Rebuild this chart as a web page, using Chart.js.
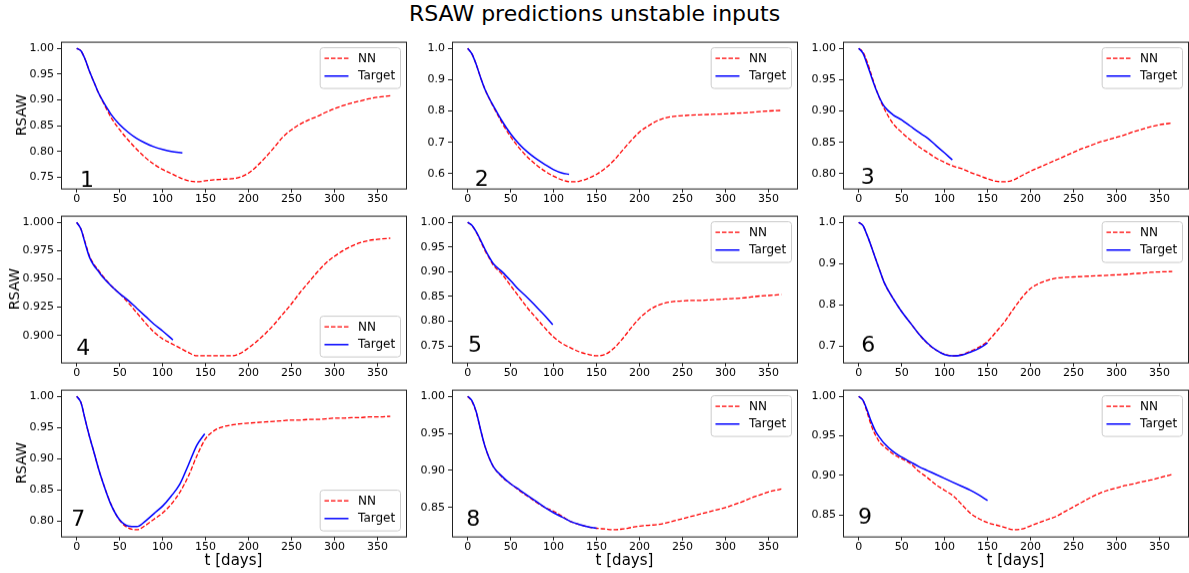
<!DOCTYPE html>
<html><head><meta charset="utf-8">
<script src="https://cdn.jsdelivr.net/npm/chart.js@4.4.1/dist/chart.umd.min.js"></script>
<style>
html,body{margin:0;padding:0;background:#fff;width:1189px;height:573px;overflow:hidden;position:relative;font-family:'DejaVu Sans',sans-serif;}
canvas{position:absolute;}
#title{position:absolute;left:0;top:1px;width:1189px;text-align:center;font-size:22px;line-height:26px;color:#000;white-space:nowrap;}
</style></head><body>
<div id="title">RSAW predictions unstable inputs</div>
<script>
// ---------- data ----------
const X_TICKS = [0, 50, 100, 150, 200, 250, 300, 350];
const NN_DAYS = [0,5,10,15,20,25,30,40,50,60,70,80,90,100,110,120,130,140,150,160,170,180,190,200,210,220,230,240,250,260,270,280,290,300,310,320,330,340,350,365];

const nn1 = [1.000,0.995,0.978,0.955,0.935,0.915,0.898,0.866,0.842,0.822,0.804,0.788,0.775,0.765,0.757,0.749,0.743,0.741,0.743,0.745,0.746,0.747,0.750,0.758,0.772,0.789,0.808,0.828,0.842,0.853,0.861,0.868,0.876,0.883,0.889,0.894,0.898,0.902,0.905,0.908];
const tgDays1 = [0,5,10,15,20,25,30,40,50,60,70,80,90,100,110,123];
const tg1 = [1.000,0.995,0.978,0.955,0.935,0.915,0.899,0.872,0.852,0.837,0.825,0.816,0.809,0.804,0.800,0.797];
const yTicks1 = ['0.75','0.80','0.85','0.90','0.95','1.00'];

const nn2 = [1.000,0.982,0.948,0.907,0.870,0.840,0.813,0.762,0.718,0.682,0.652,0.628,0.608,0.592,0.580,0.574,0.576,0.585,0.598,0.617,0.642,0.674,0.705,0.733,0.752,0.768,0.778,0.783,0.785,0.787,0.788,0.789,0.790,0.791,0.793,0.794,0.796,0.798,0.800,0.802];
const tgDays2 = [0,5,10,15,20,25,30,40,50,60,70,80,90,100,110,118];
const tg2 = [1.000,0.982,0.948,0.907,0.870,0.841,0.816,0.768,0.727,0.694,0.668,0.647,0.629,0.613,0.602,0.598];
const yTicks2 = ['0.6','0.7','0.8','0.9','1.0'];

const nn3 = [1.000,0.994,0.978,0.957,0.936,0.918,0.903,0.880,0.866,0.854,0.843,0.834,0.825,0.818,0.812,0.808,0.802,0.797,0.792,0.788,0.787,0.790,0.797,0.804,0.810,0.816,0.822,0.828,0.834,0.840,0.845,0.850,0.854,0.858,0.862,0.867,0.871,0.875,0.878,0.881];
const tgDays3 = [0,5,10,15,20,25,30,40,50,60,70,80,90,100,109];
const tg3 = [1.000,0.992,0.974,0.954,0.935,0.919,0.907,0.894,0.886,0.876,0.866,0.857,0.845,0.833,0.822];
const yTicks3 = ['0.80','0.85','0.90','0.95','1.00'];

const nn4 = [1.000,0.994,0.982,0.970,0.963,0.958,0.953,0.944,0.937,0.929,0.920,0.911,0.903,0.897,0.893,0.889,0.885,0.882,0.882,0.882,0.882,0.882,0.884,0.889,0.895,0.902,0.910,0.919,0.928,0.938,0.947,0.956,0.964,0.970,0.975,0.979,0.982,0.984,0.985,0.986];
const tgDays4 = [0,5,10,15,20,25,30,40,50,60,70,80,90,100,112];
const tg4 = [1.000,0.994,0.981,0.969,0.962,0.957,0.952,0.944,0.937,0.931,0.924,0.917,0.910,0.904,0.896];
const yTicks4 = ['0.900','0.925','0.950','0.975','1.000'];

const nn5 = [1.000,0.993,0.980,0.962,0.943,0.928,0.913,0.895,0.872,0.849,0.826,0.806,0.786,0.768,0.755,0.746,0.738,0.733,0.730,0.733,0.745,0.764,0.786,0.806,0.821,0.831,0.837,0.840,0.841,0.842,0.842,0.843,0.844,0.845,0.846,0.847,0.849,0.851,0.852,0.854];
const tgDays5 = [0,5,10,15,20,25,30,40,50,60,70,80,90,99];
const tg5 = [1.000,0.994,0.981,0.964,0.946,0.930,0.916,0.900,0.882,0.863,0.847,0.829,0.811,0.793];
const yTicks5 = ['0.75','0.80','0.85','0.90','0.95','1.00'];

const nn6 = [1.000,0.992,0.968,0.940,0.910,0.881,0.853,0.816,0.784,0.757,0.730,0.707,0.691,0.681,0.677,0.680,0.688,0.698,0.712,0.735,0.760,0.790,0.818,0.840,0.852,0.860,0.865,0.867,0.868,0.869,0.870,0.871,0.872,0.873,0.874,0.876,0.877,0.879,0.880,0.881];
const tgDays6 = [0,5,10,15,20,25,30,40,50,60,70,80,90,100,110,120,130,140,150];
const tg6 = [1.000,0.992,0.968,0.940,0.910,0.881,0.853,0.816,0.784,0.757,0.730,0.708,0.691,0.680,0.677,0.679,0.686,0.695,0.708];
const yTicks6 = ['0.7','0.8','0.9','1.0'];

const nn7 = [1.000,0.990,0.962,0.935,0.911,0.886,0.864,0.827,0.801,0.789,0.786,0.793,0.803,0.813,0.827,0.846,0.872,0.905,0.932,0.945,0.951,0.954,0.956,0.957,0.958,0.959,0.960,0.961,0.962,0.962,0.963,0.963,0.964,0.965,0.965,0.966,0.966,0.967,0.967,0.968];
const tgDays7 = [0,5,10,15,20,25,30,40,50,60,70,80,90,100,110,120,130,140,149];
const tg7 = [1.000,0.990,0.962,0.935,0.911,0.886,0.864,0.826,0.802,0.792,0.791,0.800,0.812,0.824,0.840,0.859,0.890,0.922,0.940];
const yTicks7 = ['0.80','0.85','0.90','0.95','1.00'];

const nn8 = [1.000,0.993,0.978,0.955,0.933,0.917,0.905,0.891,0.882,0.873,0.865,0.857,0.850,0.845,0.838,0.831,0.827,0.824,0.822,0.821,0.820,0.821,0.823,0.825,0.826,0.827,0.829,0.832,0.835,0.838,0.841,0.844,0.847,0.850,0.854,0.858,0.863,0.867,0.871,0.875];
const tgDays8 = [0,5,10,15,20,25,30,40,50,60,70,80,90,100,110,120,130,140,150];
const tg8 = [1.000,0.994,0.979,0.955,0.933,0.917,0.905,0.892,0.882,0.874,0.866,0.858,0.850,0.843,0.837,0.831,0.827,0.824,0.822];
const yTicks8 = ['0.85','0.90','0.95','1.00'];

const nn9 = [1.000,0.995,0.979,0.962,0.950,0.941,0.936,0.927,0.921,0.915,0.905,0.897,0.888,0.881,0.874,0.863,0.852,0.845,0.840,0.837,0.834,0.831,0.832,0.836,0.840,0.844,0.848,0.854,0.860,0.866,0.872,0.877,0.881,0.884,0.887,0.889,0.892,0.894,0.897,0.901];
const tgDays9 = [0,5,10,15,20,25,30,40,50,60,70,80,90,100,110,120,130,140,150];
const tg9 = [1.000,0.995,0.982,0.967,0.955,0.947,0.940,0.930,0.923,0.917,0.911,0.906,0.901,0.896,0.891,0.886,0.881,0.875,0.868];
const yTicks9 = ['0.85','0.90','0.95','1.00'];

const panelLabels = ['1','2','3','4','5','6','7','8','9'];
const legendLoc = ['upper','upper','upper','lower','upper','upper','lower','upper','upper'];

// ---------- layout ----------
const AX_W = 345, AX_H = 146;
const COL_LEFT = [61, 452, 843];
const ROW_TOP = [42, 216, 390];
const YLABEL_PAD = [14, 7, 14];
const LABEL_POS = [[19,1.3],[22.7,3],[17.7,4.7],[15.3,8],[16,10.3],[18.3,10.3],[10.3,10.3],[14.3,10.3],[15,12.7]];

const NNS = [nn1,nn2,nn3,nn4,nn5,nn6,nn7,nn8,nn9];
const TGS = [tg1,tg2,tg3,tg4,tg5,tg6,tg7,tg8,tg9];
const TGD = [tgDays1,tgDays2,tgDays3,tgDays4,tgDays5,tgDays6,tgDays7,tgDays8,tgDays9];
const YT = [yTicks1,yTicks2,yTicks3,yTicks4,yTicks5,yTicks6,yTicks7,yTicks8,yTicks9];

Chart.defaults.font.family = "'DejaVu Sans', sans-serif";
Chart.defaults.color = '#000';

const decor = {
  id: 'decor',
  afterDatasetsDraw(chart, args, o) {
    const ctx = chart.ctx, a = chart.chartArea;
    ctx.save();
    ctx.strokeStyle = '#222'; ctx.lineWidth = 1;
    ctx.strokeRect(a.left + 0.5, a.top + 0.5, a.right - a.left, a.bottom - a.top);
    ctx.fillStyle = '#000';
    ctx.font = "22px 'DejaVu Sans'";
    ctx.textBaseline = 'alphabetic'; ctx.textAlign = 'left';
    ctx.fillText(o.label, a.left + o.lx, a.bottom - o.lb);
    ctx.font = "12px 'DejaVu Sans'";
    const ds = chart.data.datasets;
    const items = [ds[1], ds[0]];
    const tw = Math.max(...items.map(d => ctx.measureText(d.label).width));
    const w = 4.8 + 24 + 9.6 + tw + 4.8, h = 40.5;
    const x0 = a.right - 6 - w;
    const y0 = o.loc === 'upper' ? a.top + 5.5 : a.bottom - 6 - h;
    ctx.beginPath();
    if (ctx.roundRect) ctx.roundRect(x0 + 0.5, y0 + 0.5, w, h, 3); else ctx.rect(x0 + 0.5, y0 + 0.5, w, h);
    ctx.fillStyle = 'rgba(255,255,255,0.8)'; ctx.fill();
    ctx.strokeStyle = '#cccccc'; ctx.lineWidth = 1; ctx.stroke();
    items.forEach((d, i) => {
      const cy = y0 + 11 + i * 17.7;
      ctx.beginPath();
      ctx.strokeStyle = d.borderColor; ctx.lineWidth = d.borderWidth;
      ctx.setLineDash(d.borderDash || []);
      ctx.moveTo(x0 + 4.8, cy); ctx.lineTo(x0 + 28.8, cy); ctx.stroke();
      ctx.setLineDash([]);
      ctx.fillStyle = '#000'; ctx.textBaseline = 'middle';
      ctx.fillText(d.label, x0 + 38.4, cy + 0.5);
    });
    ctx.restore();
  }
};

for (let p = 0; p < 9; p++) {
  const r = Math.floor(p / 3), c = p % 3;
  const L = c === 0 ? 61 : 50, T = 8, R = c === 2 ? 1 : 10, B = r === 2 ? 37 : 24;
  const cv = document.createElement('canvas');
  cv.width = L + AX_W + R; cv.height = T + AX_H + B;
  cv.style.left = (COL_LEFT[c] - L) + 'px';
  cv.style.top = (ROW_TOP[r] - T) + 'px';
  document.body.appendChild(cv);

  const nn = NNS[p], tg = TGS[p], tgd = TGD[p];
  const all = nn.concat(tg);
  const lo = Math.min(...all), hi = Math.max(...all), m = 0.05 * (hi - lo);
  const ticksY = YT[p];
  const dec = ticksY[0].split('.')[1].length;

  const ch = new Chart(cv, {
    type: 'line',
    data: {
      datasets: [
        { label: 'Target', data: tgd.map((d, i) => ({ x: d, y: tg[i] })), borderColor: '#0000ff', borderWidth: 1.5, pointRadius: 0, cubicInterpolationMode: 'monotone', fill: false },
        { label: 'NN', data: NN_DAYS.map((d, i) => ({ x: d, y: nn[i] })), borderColor: '#ff0000', borderWidth: 1.3, borderDash: [4.5, 2], pointRadius: 0, cubicInterpolationMode: 'monotone', fill: false }
      ]
    },
    options: {
      responsive: false, maintainAspectRatio: false, animation: false, devicePixelRatio: 1,
      layout: { padding: { top: T, right: R, left: 0, bottom: 0 }, autoPadding: false },
      plugins: { legend: { display: false }, tooltip: { enabled: false }, decor: { label: panelLabels[p], lx: LABEL_POS[p][0], lb: LABEL_POS[p][1], loc: legendLoc[p] } },
      scales: {
        x: {
          type: 'linear', min: -18.25, max: 383.25,
          afterBuildTicks: s => { s.ticks = X_TICKS.map(v => ({ value: v })); },
          afterFit: s => { s.height = B; },
          ticks: { autoSkip: false, maxRotation: 0, padding: 0, font: { size: 11 }, color: '#000', callback: v => String(v) },
          grid: { drawOnChartArea: false, drawTicks: true, tickLength: 4, tickColor: '#222', tickWidth: 1 },
          border: { display: false },
          title: { display: r === 2, text: 't [days]', font: { size: 15 }, color: '#000', padding: { top: 0, bottom: 3 } }
        },
        y: {
          type: 'linear', min: lo - m, max: hi + m,
          afterBuildTicks: s => { s.ticks = ticksY.map(t => ({ value: parseFloat(t) })); },
          afterFit: s => { s.width = L; },
          ticks: { autoSkip: false, padding: 3, font: { size: 11 }, color: '#000', callback: v => v.toFixed(dec) },
          grid: { drawOnChartArea: false, drawTicks: true, tickLength: 4, tickColor: '#222', tickWidth: 1 },
          border: { display: false },
          title: { display: c === 0, text: 'RSAW', font: { size: 14 }, color: '#000', padding: { top: YLABEL_PAD[r], bottom: 0 } }
        }
      }
    },
    plugins: [decor]
  });

  // align the plotting area exactly with the target box
  for (let k = 0; k < 3; k++) {
    const a = ch.chartArea;
    const dw = AX_W - (a.right - a.left), dh = AX_H - (a.bottom - a.top);
    if (dw !== 0 || dh !== 0) { ch.resize(cv.width + dw, cv.height + dh); }
  }
  const a2 = ch.chartArea;
  cv.style.left = (COL_LEFT[c] - a2.left) + 'px';
  cv.style.top = (ROW_TOP[r] - a2.top) + 'px';
}
</script>
</body></html>
